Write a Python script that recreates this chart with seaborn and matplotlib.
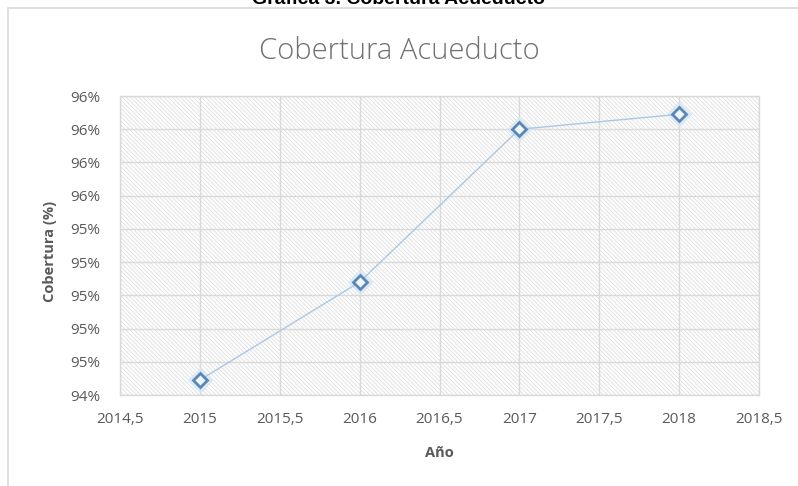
import matplotlib.pyplot as plt
import numpy as np
import pandas as pd
import seaborn as sns
from matplotlib.lines import Line2D
from matplotlib.patches import Rectangle
from matplotlib.ticker import FuncFormatter

years = [2015, 2016, 2017, 2018]
coverage = [94.49, 95.08, 96.00, 96.09]

x_ticks = np.arange(2014.5, 2018.51, 0.5)
y_ticks = np.arange(94.4, 96.21, 0.2)

TEXT_GRAY = "#595959"
GRID_GRAY = "#d9d9d9"

sns.set_theme(style="white")
plt.rcParams["font.family"] = ["Open Sans", "DejaVu Sans"]
plt.rcParams["hatch.linewidth"] = 0.6


def comma_decimal(value, _pos):
    return f"{value:g}".replace(".", ",")


def main() -> None:
    df = pd.DataFrame({"Año": years, "Cobertura": coverage})

    fig = plt.figure(figsize=(7.98, 4.86), dpi=100)
    ax = fig.add_axes([120 / 798, 91 / 486, 639 / 798, 299 / 486])

    # hatched plot area background
    ax.add_patch(Rectangle((0, 0), 1, 1, transform=ax.transAxes, facecolor="none",
                           edgecolor="#dedede", hatch="\\" * 8, lw=0, zorder=0))

    # soft glow under markers
    ax.plot(df["Año"], df["Cobertura"], linestyle="none", marker="D",
            markersize=12, color="#d5e6f5", alpha=0.7, zorder=2)
    sns.lineplot(data=df, x="Año", y="Cobertura", ax=ax, color="#a9c8e6",
                 linewidth=1, marker="D", markersize=7,
                 markerfacecolor="#eef5fb", markeredgecolor="#5a87b5",
                 markeredgewidth=2, zorder=3)

    ax.set_xlim(x_ticks[0], x_ticks[-1])
    ax.set_ylim(y_ticks[0], y_ticks[-1])
    ax.set_xticks(x_ticks)
    ax.set_yticks(y_ticks)
    ax.xaxis.set_major_formatter(FuncFormatter(comma_decimal))
    ax.yaxis.set_major_formatter(FuncFormatter(lambda v, _p: f"{v:.0f}%"))
    ax.tick_params(axis="x", length=0, pad=12, labelsize=11, labelcolor=TEXT_GRAY)
    ax.tick_params(axis="y", length=0, pad=14, labelsize=11, labelcolor=TEXT_GRAY)

    ax.grid(True, color=GRID_GRAY, linewidth=1)
    ax.set_axisbelow(True)
    for spine in ax.spines.values():
        spine.set_color(GRID_GRAY)
        spine.set_linewidth(1)

    ax.set_xlabel("Año", fontsize=10.5, fontweight="bold", color=TEXT_GRAY)
    ax.set_ylabel("Cobertura (%)", fontsize=10.5, fontweight="bold", color=TEXT_GRAY)
    ax.xaxis.set_label_coords(0.5, -0.194)
    ax.xaxis.label.set_va("center")
    ax.yaxis.set_label_coords(-0.11, 0.48)
    ax.yaxis.label.set_va("center")

    fig.text(0.5, 1 - 59 / 486, "Cobertura Acueducto", ha="center",
             va="baseline", fontsize=21, color="#707070", fontweight="light")

    # caption cut off at the top of the page, as in the source scan
    fig.text(0.5, 1 - 4 / 486, "Gráfica 3. Cobertura Acueducto", ha="center",
             va="baseline", fontsize=14, fontweight="bold", color="black",
             family=["Liberation Sans", "DejaVu Sans"])

    # chart frame
    fig.add_artist(Line2D([8 / 798, 1], [1 - 8 / 486, 1 - 8 / 486],
                          color=GRID_GRAY, linewidth=1.2))
    fig.add_artist(Line2D([8 / 798, 8 / 798], [0, 1 - 8 / 486],
                          color=GRID_GRAY, linewidth=1.2))

    fig.savefig("out.png", dpi=100)
    plt.close(fig)


if __name__ == "__main__":
    main()
